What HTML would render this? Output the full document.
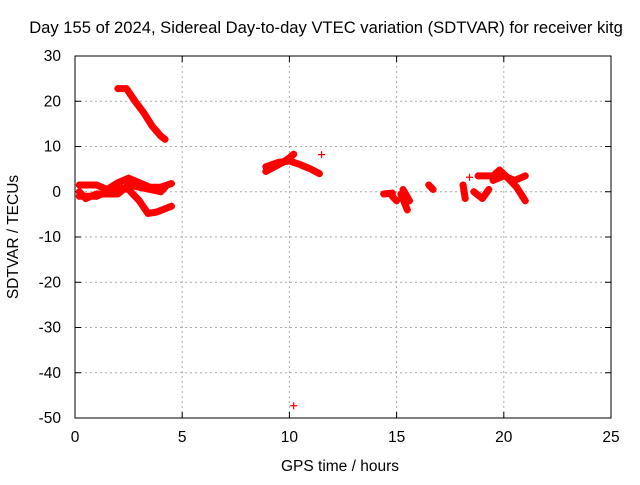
<!DOCTYPE html>
<html><head><meta charset="utf-8"><style>
body{margin:0;background:#fff}
svg text{font-family:"Liberation Sans",sans-serif;font-size:15.5px;fill:#000}
</style></head><body>
<svg width="640" height="480" id="chart">
<rect width="640" height="480" fill="#fff"/>
<g id="grid"></g>
<g id="axes"></g>
<g id="marks"></g>
<text x="326" y="33" text-anchor="middle" style="font-size:16.6px">Day 155 of 2024, Sidereal Day-to-day VTEC variation (SDTVAR) for receiver kitg</text>
<text x="340" y="471" text-anchor="middle">GPS time / hours</text>
<text transform="translate(18,237) rotate(-90)" text-anchor="middle">SDTVAR / TECUs</text>
</svg>
<script>
const xTicks=[0,5,10,15,20,25];
const yTicks=[30,20,10,0,-10,-20,-30,-40,-50];
const tracks=[
[[2.0,22.8],[2.4,22.8],[2.8,20],[3.2,17.5],[3.6,14.5],[4.0,12.3],[4.2,11.6]],
[[0.2,1.5],[1,1.5],[1.5,0.5],[2,2],[2.5,3],[3,2],[3.5,1],[4,1],[4.5,1.8]],
[[0.2,-1],[1,-1],[1.5,0],[2,1],[2.5,0.5],[3,-2],[3.4,-4.8],[3.8,-4.5],[4.5,-3.2]],
[[0.2,0],[0.5,-1.5],[1,-0.5],[2,-0.5],[2.5,1.5],[3,1],[4,0],[4.2,1]],
[[8.9,4.5],[9.3,5.5],[9.7,6.5],[10,7.5],[10.2,8.3]],
[[8.9,5.5],[9.5,6.5],[10,6.8],[10.5,6],[11,5],[11.4,4]],
[[14.4,-0.5],[14.8,-0.3]],
[[14.8,-1],[15,-2]],
[[15.2,-0.5],[15.5,-4]],
[[15.3,0.5],[15.6,-2]],
[[16.5,1.5],[16.7,0.5]],
[[18.1,1.5],[18.2,-1.5]],
[[18.6,0],[19,-1.5],[19.3,0.5]],
[[18.8,3.5],[19.5,3.5],[19.8,4.8],[20.2,3],[20.6,1],[21,-2]],
[[19.5,2.5],[20,3.5],[20.5,2.5],[21,3.5]]
];
const singles=[[11.5,8.2],[10.2,-47.3],[18.4,3.2],[20.9,-1.5]];
const X=v=>75+v*21.44, Y=v=>56+(30-v)*4.525;
const NS='http://www.w3.org/2000/svg';
function mk(t,a,p){const e=document.createElementNS(NS,t);for(const k in a)e.setAttribute(k,a[k]);p.appendChild(e);return e;}
const grid=document.getElementById('grid'),axes=document.getElementById('axes'),marks=document.getElementById('marks');
xTicks.forEach(v=>{
 if(v>0&&v<25){const l=mk('line',{x1:X(v),x2:X(v),y1:56,y2:418,stroke:'#aaa','stroke-dasharray':'2,3'},grid);
 
 }
 const t=mk('text',{x:X(v),y:442,'text-anchor':'middle'},axes);t.textContent=v;
 
 
 mk('line',{x1:X(v),x2:X(v),y1:418,y2:412,stroke:'#000'},axes);
 mk('line',{x1:X(v),x2:X(v),y1:56,y2:62,stroke:'#000'},axes);
});
yTicks.forEach(v=>{
 if(v<30&&v>-50){const l=mk('line',{x1:75,x2:611,y1:Y(v),y2:Y(v),stroke:'#aaa','stroke-dasharray':'2,3'},grid);
 
 }
 const t=mk('text',{x:61,y:Y(v)+5,'text-anchor':'end'},axes);t.textContent=v;
 
 
 mk('line',{x1:75,x2:81,y1:Y(v),y2:Y(v),stroke:'#000'},axes);
 mk('line',{x1:611,x2:605,y1:Y(v),y2:Y(v),stroke:'#000'},axes);
});
mk('rect',{x:75,y:56,width:536,height:362,fill:'none',stroke:'#000'},axes);
function cross(x,y){
 const p=mk('path',{d:`M${X(x)-3.5},${Y(y)}h7M${X(x)},${Y(y)-3.5}v7`,stroke:'#f00','stroke-width':1.2},marks);
 
 
}
tracks.forEach(tr=>{
 const pl=mk('polyline',{points:tr.map(p=>X(p[0])+','+Y(p[1])).join(' '),fill:'none',stroke:'#f00','stroke-width':7,'stroke-linejoin':'round','stroke-linecap':'round'},marks);
 
 
 tr.forEach(p=>cross(p[0],p[1]));
});
singles.forEach(p=>cross(p[0],p[1]));
</script>
</body></html>
